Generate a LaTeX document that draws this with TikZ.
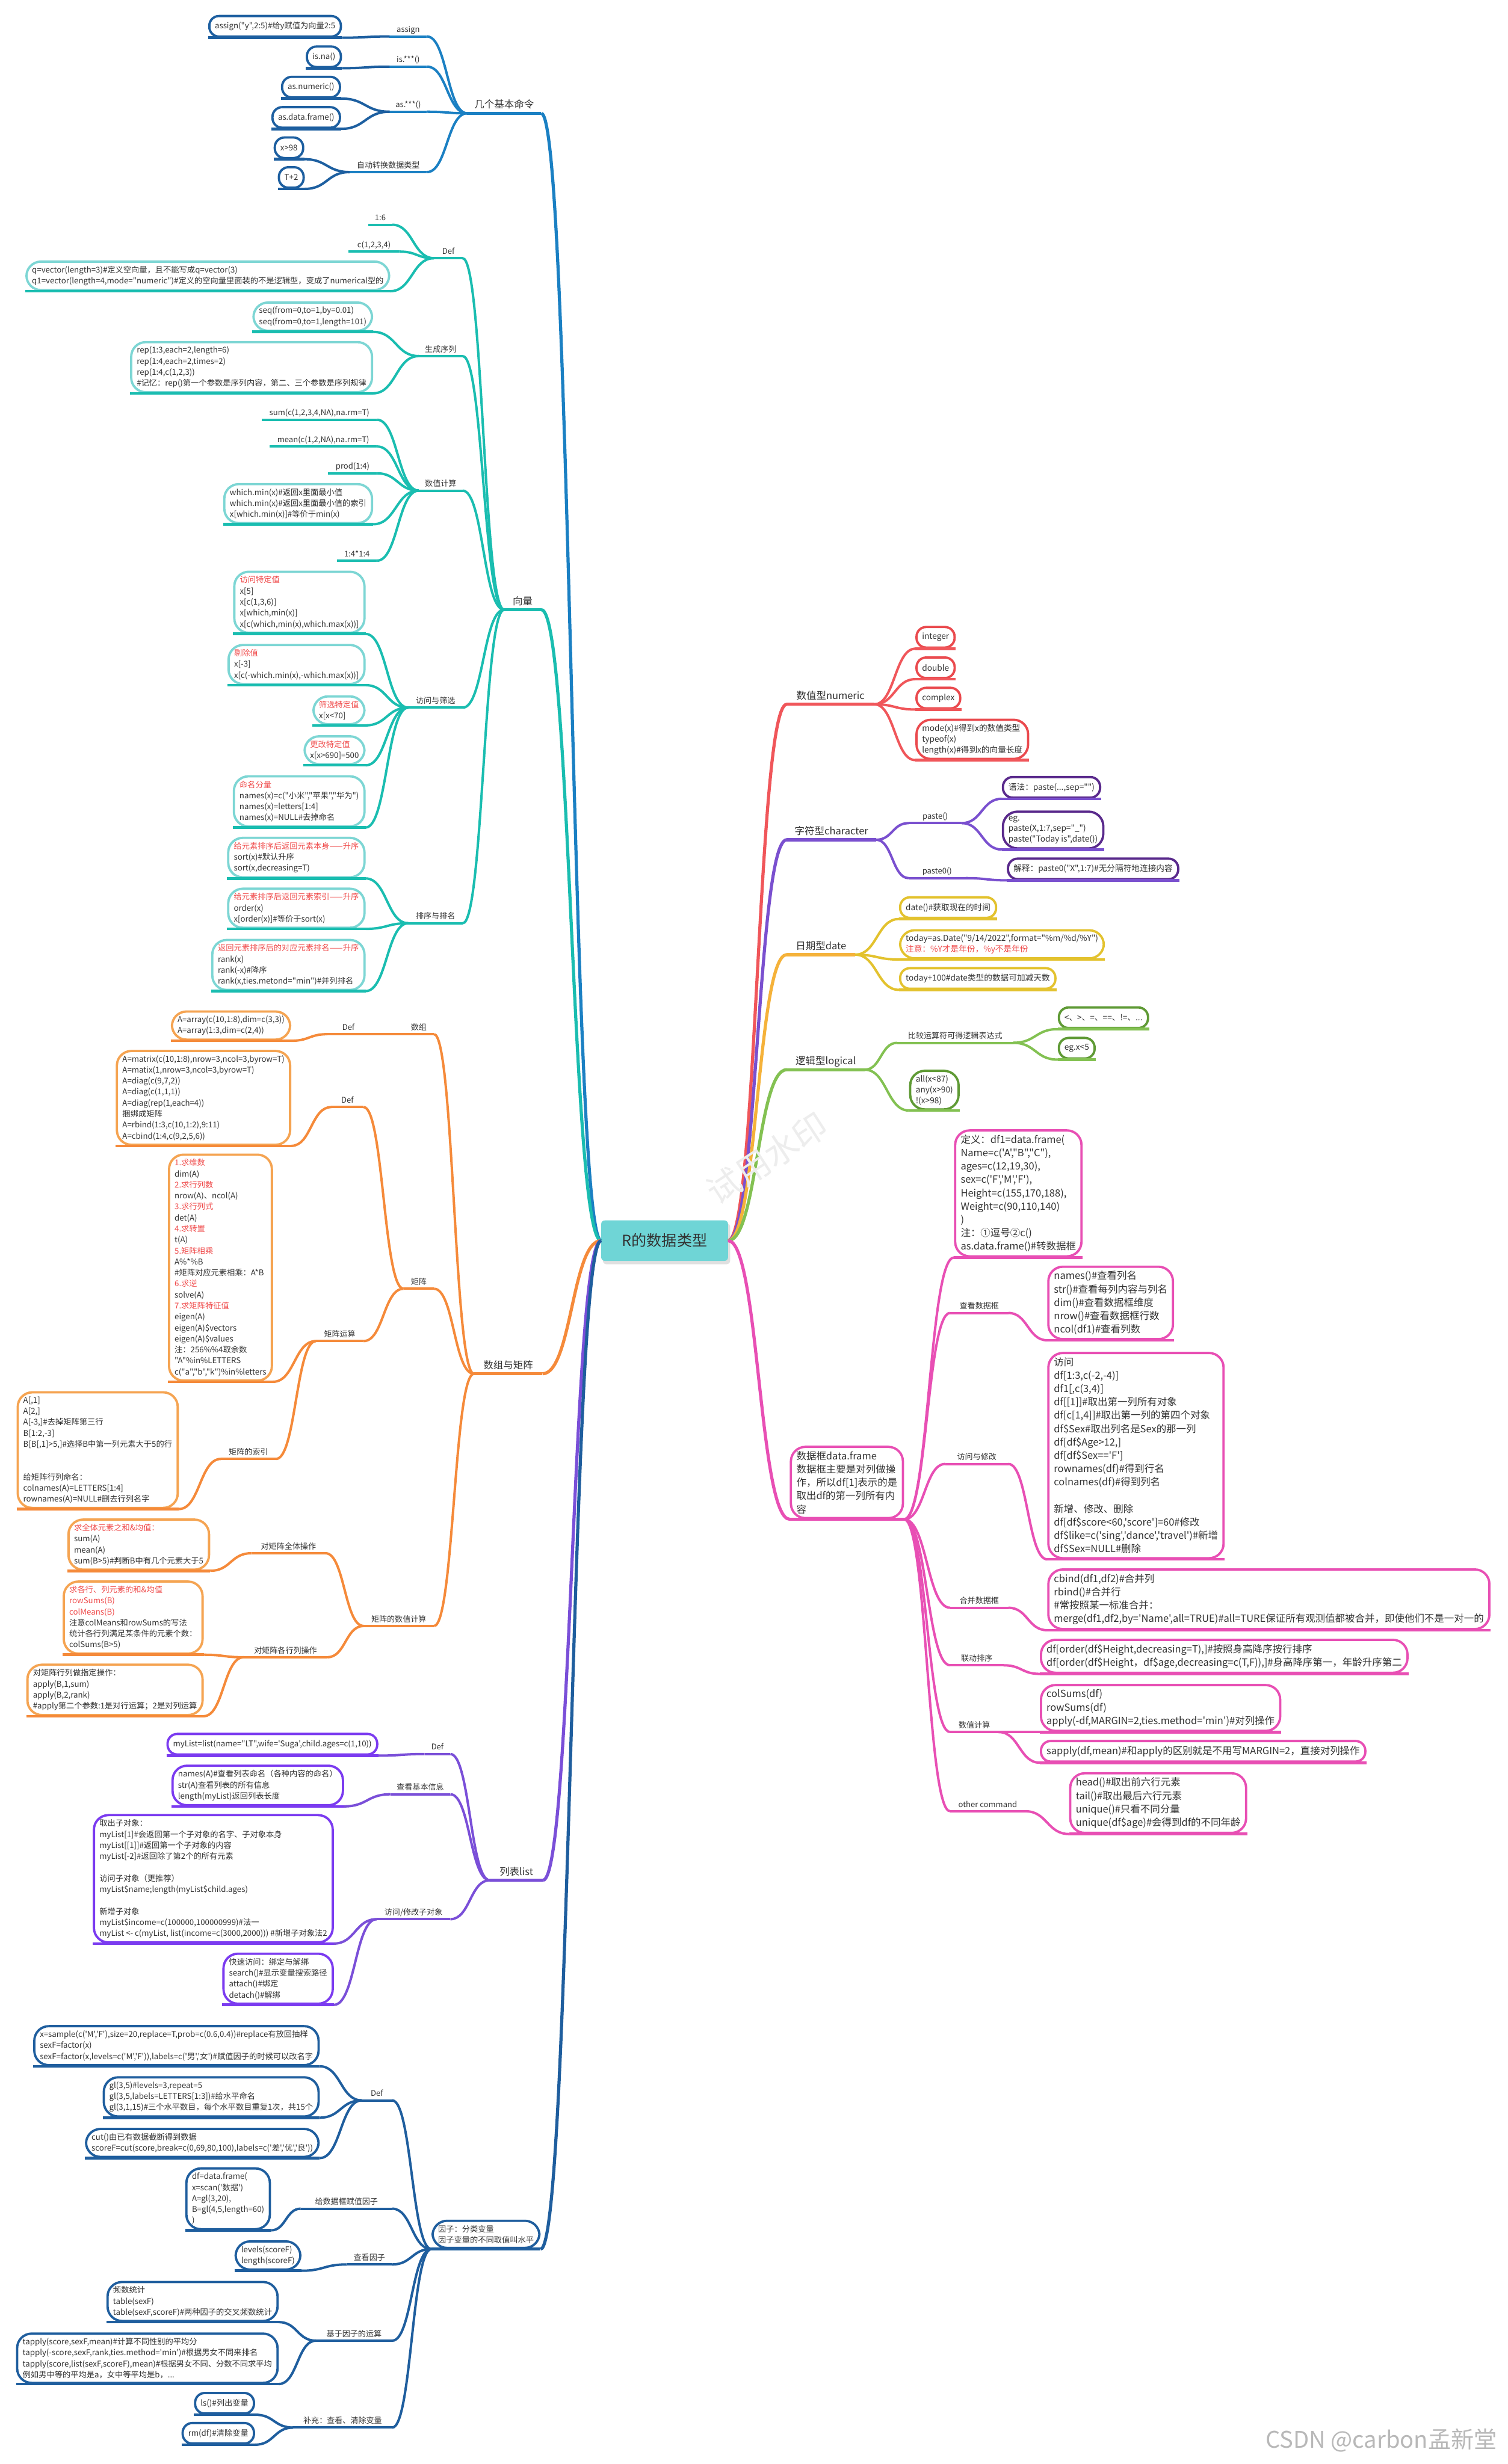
\documentclass[tikz,border=0pt]{standalone}
\usepackage{fontspec}
\newfontfamily\zhf{Noto Sans CJK SC}
\usetikzlibrary{calc}
\definecolor{txt}{HTML}{333333}
\definecolor{redT}{HTML}{F04B4B}
\definecolor{blL}{HTML}{1B80C3}
\definecolor{blB}{HTML}{1D5FA0}
\definecolor{tlL}{HTML}{1ABDB0}
\definecolor{tlB}{HTML}{7DD6D4}
\definecolor{orL}{HTML}{F58A3A}
\definecolor{orB}{HTML}{F5A452}
\definecolor{puL}{HTML}{7A4FD8}
\definecolor{puB}{HTML}{7B3BF0}
\definecolor{fbL}{HTML}{1F5E9E}
\definecolor{rdL}{HTML}{F0565A}
\definecolor{rdB}{HTML}{EA4A4E}
\definecolor{chL}{HTML}{7A50CF}
\definecolor{chB}{HTML}{5A2A8C}
\definecolor{dtR}{HTML}{F5B23A}
\definecolor{dtL}{HTML}{E3C22E}
\definecolor{lgL}{HTML}{83C152}
\definecolor{lgB}{HTML}{5F9A35}
\definecolor{pkL}{HTML}{E84FB4}
\definecolor{rootF}{HTML}{6FD5D6}
\newcommand\ftA{\zhf\fontsize{6.6}{9.1}\selectfont}
\newcommand\ftS{\zhf\fontsize{6.5}{8}\selectfont}
\newcommand\ftR{\zhf\fontsize{6.8}{8.9}\selectfont}
\newcommand\ftP{\zhf\fontsize{8.2}{11.05}\selectfont}
\newcommand\ftM{\zhf\fontsize{8.2}{10}\selectfont}
\newcommand\ftRoot{\zhf\fontsize{12.5}{14}\selectfont}
\newcommand\redtxt[1]{\textcolor{redT}{#1}}
\newcommand\LAB[6]{\node[#2, minimum width={(#4-#3)*1.3pt}, anchor=south west] (#1) at (#3,#5) {#6};}
\newcommand\CN[3]{\draw[cnx=#1] (#2) to (#3);}
\newcommand\MC[3]{\draw[mcx=#1] (#2) to (#3);}
\tikzset{
 ulx/.style 2 args={append after command={(\tikzlastnode.south west) edge[draw=#1,line width=#2] (\tikzlastnode.south east)}},
 labx/.style={font=\ftS, text=txt, inner xsep=0pt, inner ysep=2pt, text depth=1.4pt, outer sep=0pt, ulx={#1}{2pt}},
 mlabx/.style={font=\ftM, text=txt, inner xsep=0pt, inner ysep=2.4pt, text depth=1.8pt, outer sep=0pt, ulx={#1}{2.6pt}},
 boxx/.style 2 args={draw=#1, fill=white, rounded corners=8pt, line width=1.9pt, align=left, text=txt, font=\ftA, inner xsep=4.6pt, inner ysep=3.6pt, minimum height=17pt, ulx={#2}{2.3pt}},
 big/.style={rounded corners=12pt},
 cnx/.style={line width=2pt, draw=#1, to path={.. controls ($(\tikztostart)!0.5!(\tikztostart -| \tikztotarget)$) and ($(\tikztotarget)!0.5!(\tikztotarget -| \tikztostart)$) .. (\tikztotarget)}},
 mcx/.style={cnx=#1, line width=2.6pt},
 rootx/.style={fill=rootF, rounded corners=3pt, minimum width=104.9pt, minimum height=33.5pt, font=\ftRoot, text=txt, inner sep=0pt, outer sep=0pt},
}
\begin{document}
\begin{tikzpicture}[x=1.3pt,y=-1.3pt]
\fill[white] (0,0) rectangle (959,1568);
\useasboundingbox (0,0) rectangle (959,1568);

% ===== root
\fill[black!12, rounded corners=3pt] (383.5,778.5) rectangle (464.5,804.5);
\node[rootx] (root) at (422.8,789.5) {R的数据类型};

% ===== blue: 几个基本命令
\LAB{m1}{mlabx=blL}{297.2}{344.3}{72.1}{几个基本命令}
\LAB{b1}{labx=blL}{247.8}{271.6}{23.2}{assign}
\LAB{b2}{labx=blL}{247.8}{271.6}{42.4}{is.***()}
\LAB{b3}{labx=blL}{247.8}{271.6}{71.1}{as.***()}
\LAB{b4}{labx=blL}{222.4}{271.6}{109.5}{自动转换数据类型}
\node[boxx={blB}{blB}, anchor=south east] (bx1) at (217.6,24.0) {assign("y",2:5)\#给y赋值为向量2:5};
\node[boxx={blB}{blB}, anchor=south east] (bx2) at (217.6,43.4) {is.na()};
\node[boxx={blB}{blB}, anchor=south east] (bx3) at (217,62.7) {as.numeric()};
\node[boxx={blB}{blB}, anchor=south east] (bx4) at (217,82.0) {as.data.frame()};
\node[boxx={blB}{blB}, anchor=south east] (bx5) at (193.6,101.3) {x>98};
\node[boxx={blB}{blB}, anchor=south east] (bx6) at (193.9,120.2) {T+2};

% ===== teal: 向量
\LAB{m2}{mlabx=tlL}{320.7}{344.4}{388.0}{向量}
\LAB{t1}{labx=tlL}{276.1}{294.3}{164.3}{Def}
\LAB{t2}{labx=tlL}{266.4}{294.3}{226.6}{生成序列}
\LAB{t3}{labx=tlL}{266.4}{294.3}{312.2}{数值计算}
\LAB{t4}{labx=tlL}{259.7}{294.4}{450.3}{访问与筛选}
\LAB{t5}{labx=tlL}{259.7}{294.4}{587.5}{排序与排名}
\LAB{t11}{labx=tlL}{234.4}{249.5}{143.0}{1:6}
\LAB{t12}{labx=tlL}{221.6}{254.3}{160.1}{c(1,2,3,4)}
\node[boxx={tlB}{tlL}, big, anchor=south east] (tb1) at (248.3,185.3) {q=vector(length=3)\#定义空向量，且不能写成q=vector(3)\\q1=vector(length=4,mode="numeric")\#定义的空向量里面装的不是逻辑型，变成了numerical型的};
\node[boxx={tlB}{tlL}, big, anchor=south east] (tb2) at (237.4,211.2) {seq(from=0,to=1,by=0.01)\\seq(from=0,to=1,length=101)};
\node[boxx={tlB}{tlL}, big, anchor=south east] (tb3) at (237.4,250.3) {rep(1:3,each=2,length=6)\\rep(1:4,each=2,times=2)\\rep(1:4,c(1,2,3))\\\#记忆：rep()第一个参数是序列内容，第二、三个参数是序列规律};
\LAB{t31}{labx=tlL}{166.6}{239.8}{267.1}{sum(c(1,2,3,4,NA),na.rm=T)}
\LAB{t32}{labx=tlL}{171.5}{239.8}{284.1}{mean(c(1,2,NA),na.rm=T)}
\LAB{t33}{labx=tlL}{208.8}{239.8}{301.2}{prod(1:4)}
\node[boxx={tlB}{tlL}, big, anchor=south east] (tb4) at (237.4,333.6) {which.min(x)\#返回x里面最小值\\which.min(x)\#返回x里面最小值的索引\\x[which.min(x)]\#等价于min(x)};
\LAB{t34}{labx=tlL}{214.4}{239.8}{356.8}{1:4*1:4}
\node[boxx={tlB}{tlL}, big, anchor=south east] (ta1) at (232.6,403.4) {\redtxt{访问特定值}\\x[5]\\x[c(1,3,6)]\\x[which,min(x)]\\x[c(which,min(x),which.max(x))]};
\node[boxx={tlB}{tlL}, big, anchor=south east] (ta2) at (232.6,436.0) {\redtxt{剔除值}\\x[-3]\\x[c(-which.min(x),-which.max(x))]};
\node[boxx={tlB}{tlL}, big, anchor=south east] (ta3) at (232.6,461.6) {\redtxt{筛选特定值}\\x[x<70]};
\node[boxx={tlB}{tlL}, big, anchor=south east] (ta4) at (232.6,487.0) {\redtxt{更改特定值}\\x[x>690]=500};
\node[boxx={tlB}{tlL}, big, anchor=south east] (ta5) at (232.6,526.6) {\redtxt{命名分量}\\names(x)=c("小米","苹果","华为")\\names(x)=letters[1:4]\\names(x)=NULL\#去掉命名};
\node[boxx={tlB}{tlL}, big, anchor=south east] (ts1) at (232.6,559.0) {\redtxt{给元素排序后返回元素本身——升序}\\sort(x)\#默认升序\\sort(x,decreasing=T)};
\node[boxx={tlB}{tlL}, big, anchor=south east] (ts2) at (232.6,591.1) {\redtxt{给元素排序后返回元素索引——升序}\\order(x)\\x[order(x)]\#等价于sort(x)};
\node[boxx={tlB}{tlL}, big, anchor=south east] (ts3) at (232.6,630.7) {\redtxt{返回元素排序后的对应元素排名——升序}\\rank(x)\\rank(-x)\#降序\\rank(x,ties.metond="min")\#并列排名};

% ===== orange: 数组与矩阵
\LAB{m3}{mlabx=orL}{301.5}{345.1}{874.2}{数组与矩阵}
\LAB{o1}{labx=orL}{256.7}{276.1}{658.1}{数组}
\LAB{o11}{labx=orL}{208.3}{235}{658.1}{Def}
\node[boxx={orB}{orL}, big, anchor=south east] (ob1) at (185.3,662.3) {A=array(c(10,1:8),dim=c(3,3))\\A=array(1:3,dim=c(2,4))};
\LAB{o2}{labx=orL}{256.7}{276.1}{820.1}{矩阵}
\LAB{o21}{labx=orL}{210.7}{231.3}{704.5}{Def}
\node[boxx={orB}{orL}, big, anchor=south east] (ob2) at (185.3,729.2) {A=matrix(c(10,1:8),nrow=3,ncol=3,byrow=T)\\A=matix(1,nrow=3,ncol=3,byrow=T)\\A=diag(c(9,7,2))\\A=diag(c(1,1,1))\\A=diag(rep(1,each=4))\\捆绑成矩阵\\A=rbind(1:3,c(10,1:2),9:11)\\A=cbind(1:4,c(9,2,5,6))};
\LAB{o22}{labx=orL}{201}{231.3}{853.4}{矩阵运算}
\node[boxx={orB}{orL}, big, anchor=south east] (ob3) at (173.7,879.3) {\redtxt{1.求维数}\\dim(A)\\\redtxt{2.求行列数}\\nrow(A)、ncol(A)\\\redtxt{3.求行列式}\\det(A)\\\redtxt{4.求转置}\\t(A)\\\redtxt{5.矩阵相乘}\\A\%*\%B\\\#矩阵对应元素相乘：A*B\\\redtxt{6.求逆}\\solve(A)\\\redtxt{7.求矩阵特征值}\\eigen(A)\\eigen(A)\$vectors\\eigen(A)\$values\\注：256\%\%4取余数\\"A"\%in\%LETTERS\\c("a","b","k")\%in\%letters};
\LAB{o23}{labx=orL}{140.5}{175.6}{928.4}{矩阵的索引}
\node[boxx={orB}{orL}, big, anchor=south east] (ob4) at (113.8,960.3) {A[,1]\\A[2,]\\A[-3,]\#去掉矩阵第三行\\B[1:2,-3]\\B[B[,1]>5,]\#选择B中第一列元素大于5的行\\\mbox{}\\\mbox{}\\给矩阵行列命名：\\colnames(A)=LETTERS[1:4]\\rownames(A)=NULL\#删去行列名字};
\LAB{o3}{labx=orL}{231.3}{276.1}{1034.7}{矩阵的数值计算}
\LAB{o31}{labx=orL}{159.9}{207.1}{988.4}{对矩阵全体操作}
\node[boxx={orB}{orL}, big, anchor=south east] (ob5) at (133.7,999.6) {\redtxt{求全体元素之和\&均值：}\\sum(A)\\mean(A)\\sum(B>5)\#判断B中有几个元素大于5};
\LAB{o32}{labx=orL}{155}{208.3}{1054.6}{对矩阵各行列操作}
\node[boxx={orB}{orL}, big, anchor=south east] (ob6) at (129.6,1053.0) {\redtxt{求各行、列元素的和\&均值}\\\redtxt{rowSums(B)}\\\redtxt{colMeans(B)}\\注意colMeans和rowSums的写法\\统计各行列满足某条件的元素个数：\\colSums(B>5)};
\node[boxx={orB}{orL}, big, anchor=south east] (ob7) at (129.6,1092.1) {对矩阵行列做指定操作：\\apply(B,1,sum)\\apply(B,2,rank)\\\#apply第二个参数:1是对行运算；2是对列运算};

% ===== purple: 列表list
\LAB{m4}{mlabx=puL}{311.6}{345.4}{1196.5}{列表list}
\LAB{p1}{labx=puL}{270.1}{286.5}{1116.2}{Def}
\node[boxx={puB}{puB}, anchor=south east] (pb1) at (240.7,1117.2) {myList=list(name="LT",wife='Suga',child.ages=c(1,10))};
\LAB{p2}{labx=puL}{248.3}{286.5}{1141.8}{查看基本信息}
\node[boxx={puB}{puB}, big, anchor=south east] (pb2) at (218.9,1149.5) {names(A)\#查看列表命名（各种内容的命名）\\str(A)查看列表的所有信息\\length(myList)返回列表长度};
\LAB{p3}{labx=puL}{239.6}{286.5}{1221.3}{访问/修改子对象}
\node[boxx={puB}{puB}, big, anchor=south east] (pb3) at (212.4,1236.8) {取出子对象：\\myList[1]\#会返回第一个子对象的名字、子对象本身\\myList[[1]]\#返回第一个子对象的内容\\myList[-2]\#返回除了第2个的所有元素\\\mbox{}\\访问子对象（更推荐）\\myList\$name;length(myList\$child.ages)\\\mbox{}\\新增子对象\\myList\$income=c(100000,100000999)\#法一\\myList <- c(myList, list(income=c(3000,2000))) \#新增子对象法2};
\node[boxx={puB}{puB}, big, anchor=south east] (pb4) at (212.4,1275.8) {快速访问：绑定与解绑\\search()\#显示变量搜索路径\\attach()\#绑定\\detach()\#解绑};

% ===== factor
\node[boxx={fbL}{fbL}, big, anchor=south east] (m5) at (343.9,1431.2) {因子：分类变量\\因子变量的不同取值叫水平};
\LAB{f1}{labx=fbL}{230.1}{249.5}{1336.6}{Def}
\node[boxx={fbL}{fbL}, big, anchor=south east] (fb1) at (203.4,1314.9) {x=sample(c('M','F'),size=20,replace=T,prob=c(0.6,0.4))\#replace有放回抽样\\sexF=factor(x)\\sexF=factor(x,levels=c('M','F')),labels=c('男','女')\#赋值因子的时候可以改名字};
\node[boxx={fbL}{fbL}, big, anchor=south east] (fb2) at (203.4,1347.6) {gl(3,5)\#levels=3,repeat=5\\gl(3,5,labels=LETTERS[1:3])\#给水平命名\\gl(3,1,15)\#三个水平数目，每个水平数目重复1次，共15个};
\node[boxx={fbL}{fbL}, big, anchor=south east] (fb3) at (203.4,1373.3) {cut()由已有数据截断得到数据\\scoreF=cut(score,break=c(0,69,80,100),labels=c('差','优','良'))};
\LAB{f2}{labx=fbL}{191.3}{249.5}{1405.5}{给数据框赋值因子}
\node[boxx={fbL}{fbL}, big, anchor=south east] (fb4) at (172.4,1419.3) {df=data.frame(\\x=scan('数据')\\A=gl(3,20),\\B=gl(4,5,length=60)\\)};
\LAB{f3}{labx=fbL}{220.4}{249.5}{1441.0}{查看因子}
\node[boxx={fbL}{fbL}, big, anchor=south east] (fb5) at (191.8,1445.0) {levels(scoreF)\\length(scoreF)};
\LAB{f4}{labx=fbL}{201}{249.5}{1489.5}{基于因子的运算}
\node[boxx={fbL}{fbL}, big, anchor=south east] (fb6) at (177.3,1477.7) {频数统计\\table(sexF)\\table(sexF,scoreF)\#两种因子的交叉频数统计};
\node[boxx={fbL}{fbL}, big, anchor=south east] (fb7) at (177.3,1517.1) {tapply(score,sexF,mean)\#计算不同性别的平均分\\tapply(-score,sexF,rank,ties.method='min')\#根据男女不同来排名\\tapply(score,list(sexF,scoreF),mean)\#根据男女不同、分数不同求平均\\例如男中等的平均是a，女中等平均是b，...};
\LAB{f5}{labx=fbL}{186.5}{249.5}{1544.8}{补充：查看、清除变量}
\node[boxx={fbL}{fbL}, anchor=south east] (fb8) at (162.3,1536.6) {ls()\#列出变量};
\node[boxx={fbL}{fbL}, anchor=south east] (fb9) at (162.3,1555.7) {rm(df)\#清除变量};

% ===== right: numeric
\LAB{m6}{mlabx=rdL}{500.5}{556.2}{448.2}{数值型numeric}
\node[boxx={rdB}{rdL}, font=\ftR, anchor=south west] (n1) at (582.3,412.8) {integer};
\node[boxx={rdB}{rdL}, font=\ftR, anchor=south west] (n2) at (582.3,432.2) {double};
\node[boxx={rdB}{rdL}, font=\ftR, anchor=south west] (n3) at (582.3,451.5) {complex};
\node[boxx={rdB}{rdL}, font=\ftR, big, anchor=south west] (n4) at (582.3,483.7) {mode(x)\#得到x的数值类型\\typeof(x)\\length(x)\#得到x的向量长度};

% ===== character
\LAB{m7}{mlabx=chL}{500.5}{557.4}{534.4}{字符型character}
\LAB{c1}{labx=chL}{578}{611.9}{523.8}{paste()}
\LAB{c2}{labx=chL}{578}{614.3}{558.8}{paste0()}
\node[boxx={chB}{chL}, font=\ftR, anchor=south west] (cb1) at (637.3,508.3) {语法：paste(...,sep="")};
\node[boxx={chB}{chL}, font=\ftR, big, anchor=south west] (cb2) at (637.3,540.6) {eg.\\paste(X,1:7,sep="\_")\\paste("Today is",date())};
\node[boxx={chB}{chL}, font=\ftR, anchor=south west] (cb3) at (640.5,560.2) {解释：paste0("X",1:7)\#无分隔符地连接内容};

% ===== date
\LAB{m8}{mlabx=dtR}{500.5}{544}{607.5}{日期型date}
\node[boxx={dtL}{dtL}, font=\ftR, anchor=south west] (d1) at (571.9,584.8) {date()\#获取现在的时间};
\node[boxx={dtL}{dtL}, font=\ftR, big, anchor=south west] (d2) at (571.9,610.6) {today=as.Date("9/14/2022",format="\%m/\%d/\%Y")\\\redtxt{注意：\%Y才是年份，\%y不是年份}};
\node[boxx={dtL}{dtL}, font=\ftR, anchor=south west] (d3) at (571.9,629.9) {today+100\#date类型的数据可加减天数};

% ===== logical
\LAB{m9}{mlabx=lgL}{500.5}{550.1}{680.7}{逻辑型logical}
\LAB{g1}{labx=lgL}{570.7}{644.6}{663.6}{比较运算符可得逻辑表达式}
\node[boxx={lgB}{lgL}, font=\ftR, anchor=south west] (gb1) at (672.9,654.9) {<、>、=、==、!=、...};
\node[boxx={lgB}{lgL}, font=\ftR, anchor=south west] (gb2) at (672.9,674.3) {eg.x<5};
\node[boxx={lgB}{lgL}, font=\ftR, big, anchor=south west] (gb3) at (578.3,706.7) {all(x<87)\\any(x>90)\\!(x>98)};

% ===== pink: data.frame
\node[boxx={pkL}{pkL}, font=\ftP, big, anchor=south west] (m10) at (502.4,966.8) {数据框data.frame\\数据框主要是对列做操\\作，所以df[1]表示的是\\取出df的第一列所有内\\容};
\node[boxx={pkL}{pkL}, font=\ftP, big, anchor=south west] (k0) at (606.9,800.2) {定义：df1=data.frame(\\Name=c('A',"B","C"),\\ages=c(12,19,30),\\sex=c('F','M','F'),\\Height=c(155,170,188),\\Weight=c(90,110,140)\\)\\注：①逗号②c()\\as.data.frame()\#转数据框};
\LAB{k1}{labx=pkL}{604.4}{641.5}{835.5}{查看数据框}
\node[boxx={pkL}{pkL}, font=\ftP, big, anchor=south west] (kb1) at (666.2,852.9) {names()\#查看列名\\str()\#查看每列内容与列名\\dim()\#查看数据框维度\\nrow()\#查看数据框行数\\ncol(df1)\#查看列数};
\LAB{k2}{labx=pkL}{601.3}{641.5}{931.6}{访问与修改}
\node[boxx={pkL}{pkL}, font=\ftP, big, anchor=south west] (kb2) at (666.2,992.3) {访问\\df[1:3,c(-2,-4)]\\df1[,c(3,4)]\\df[[1]]\#取出第一列所有对象\\df[c[1,4]]\#取出第一列的第四个对象\\df\$Sex\#取出列名是Sex的那一列\\df[df\$Age>12,]\\df[df\$Sex=='F']\\rownames(df)\#得到行名\\colnames(df)\#得到列名\\\mbox{}\\新增、修改、删除\\df[df\$score<60,'score']=60\#修改\\df\$like=c('sing','dance','travel')\#新增\\df\$Sex=NULL\#删除};
\LAB{k3}{labx=pkL}{604.4}{641.5}{1023.1}{合并数据框}
\node[boxx={pkL}{pkL}, font=\ftP, big, anchor=south west] (kb3) at (666.2,1037.4) {cbind(df1,df2)\#合并列\\rbind()\#合并行\\\#常按照某一标准合并：\\merge(df1,df2,by='Name',all=TRUE)\#all=TURE保证所有观测值都被合并，即使他们不是一对一的};
\LAB{k4}{labx=pkL}{604.4}{638.4}{1059.7}{联动排序}
\node[boxx={pkL}{pkL}, font=\ftP, big, anchor=south west] (kb4) at (661.5,1065.2) {df[order(df\$Height,decreasing=T),]\#按照身高降序按行排序\\df[order(df\$Height，df\$age,decreasing=c(T,F)),]\#身高降序第一，年龄升序第二};
\LAB{k5}{labx=pkL}{604.4}{635.3}{1102.2}{数值计算}
\node[boxx={pkL}{pkL}, font=\ftP, big, anchor=south west] (kb5) at (661.5,1102.2) {colSums(df)\\rowSums(df)\\apply(-df,MARGIN=2,ties.method='min')\#对列操作};
\node[boxx={pkL}{pkL}, font=\ftP, anchor=south west] (kb6) at (661.5,1121.7) {sapply(df,mean)\#和apply的区别就是不用写MARGIN=2，直接对列操作};
\LAB{k6}{labx=pkL}{604.4}{652.3}{1152.6}{other command}
\node[boxx={pkL}{pkL}, font=\ftP, big, anchor=south west] (kb7) at (680.1,1167.1) {head()\#取出前六行元素\\tail()\#取出最后六行元素\\unique()\#只看不同分量\\unique(df\$age)\#会得到df的不同年龄};

% ===== connectors: blue
\CN{blB}{bx1.south east}{b1.south west}
\CN{blB}{bx2.south east}{b2.south west}
\CN{blB}{bx3.south east}{b3.south west}
\CN{blB}{bx4.south east}{b3.south west}
\CN{blB}{bx5.south east}{b4.south west}
\CN{blB}{bx6.south east}{b4.south west}
\CN{blL}{b1.south east}{m1.south west}
\CN{blL}{b2.south east}{m1.south west}
\CN{blL}{b3.south east}{m1.south west}
\CN{blL}{b4.south east}{m1.south west}
\MC{blL}{m1.south east}{root.west}
% teal
\CN{tlL}{t11.south east}{t1.south west}
\CN{tlL}{t12.south east}{t1.south west}
\CN{tlL}{tb1.south east}{t1.south west}
\CN{tlL}{tb2.south east}{t2.south west}
\CN{tlL}{tb3.south east}{t2.south west}
\CN{tlL}{t31.south east}{t3.south west}
\CN{tlL}{t32.south east}{t3.south west}
\CN{tlL}{t33.south east}{t3.south west}
\CN{tlL}{tb4.south east}{t3.south west}
\CN{tlL}{t34.south east}{t3.south west}
\CN{tlL}{ta1.south east}{t4.south west}
\CN{tlL}{ta2.south east}{t4.south west}
\CN{tlL}{ta3.south east}{t4.south west}
\CN{tlL}{ta4.south east}{t4.south west}
\CN{tlL}{ta5.south east}{t4.south west}
\CN{tlL}{ts1.south east}{t5.south west}
\CN{tlL}{ts2.south east}{t5.south west}
\CN{tlL}{ts3.south east}{t5.south west}
\CN{tlL}{t1.south east}{m2.south west}
\CN{tlL}{t2.south east}{m2.south west}
\CN{tlL}{t3.south east}{m2.south west}
\CN{tlL}{t4.south east}{m2.south west}
\CN{tlL}{t5.south east}{m2.south west}
\MC{tlL}{m2.south east}{root.west}
% orange
\CN{orL}{ob1.south east}{o11.south west}
\CN{orL}{o11.south east}{o1.south west}
\CN{orL}{ob2.south east}{o21.south west}
\CN{orL}{o21.south east}{o2.south west}
\CN{orL}{ob3.south east}{o22.south west}
\CN{orL}{ob4.south east}{o23.south west}
\CN{orL}{o23.south east}{o22.south west}
\CN{orL}{o22.south east}{o2.south west}
\CN{orL}{ob5.south east}{o31.south west}
\CN{orL}{ob6.south east}{o32.south west}
\CN{orL}{ob7.south east}{o32.south west}
\CN{orL}{o31.south east}{o3.south west}
\CN{orL}{o32.south east}{o3.south west}
\CN{orL}{o1.south east}{m3.south west}
\CN{orL}{o2.south east}{m3.south west}
\CN{orL}{o3.south east}{m3.south west}
\MC{orL}{m3.south east}{root.west}
% purple
\CN{puL}{pb1.south east}{p1.south west}
\CN{puL}{pb2.south east}{p2.south west}
\CN{puL}{pb3.south east}{p3.south west}
\CN{puL}{pb4.south east}{p3.south west}
\CN{puL}{p1.south east}{m4.south west}
\CN{puL}{p2.south east}{m4.south west}
\CN{puL}{p3.south east}{m4.south west}
\MC{puL}{m4.south east}{root.west}
% factor
\CN{fbL}{fb1.south east}{f1.south west}
\CN{fbL}{fb2.south east}{f1.south west}
\CN{fbL}{fb3.south east}{f1.south west}
\CN{fbL}{fb4.south east}{f2.south west}
\CN{fbL}{fb5.south east}{f3.south west}
\CN{fbL}{fb6.south east}{f4.south west}
\CN{fbL}{fb7.south east}{f4.south west}
\CN{fbL}{fb8.south east}{f5.south west}
\CN{fbL}{fb9.south east}{f5.south west}
\CN{fbL}{f1.south east}{m5.south west}
\CN{fbL}{f2.south east}{m5.south west}
\CN{fbL}{f3.south east}{m5.south west}
\CN{fbL}{f4.south east}{m5.south west}
\CN{fbL}{f5.south east}{m5.south west}
\MC{fbL}{m5.south east}{root.west}
% right side
\MC{rdL}{root.east}{m6.south west}
\CN{rdL}{m6.south east}{n1.south west}
\CN{rdL}{m6.south east}{n2.south west}
\CN{rdL}{m6.south east}{n3.south west}
\CN{rdL}{m6.south east}{n4.south west}
\MC{chL}{root.east}{m7.south west}
\CN{chL}{m7.south east}{c1.south west}
\CN{chL}{m7.south east}{c2.south west}
\CN{chL}{c1.south east}{cb1.south west}
\CN{chL}{c1.south east}{cb2.south west}
\CN{chL}{c2.south east}{cb3.south west}
\MC{dtR}{root.east}{m8.south west}
\CN{dtL}{m8.south east}{d1.south west}
\CN{dtL}{m8.south east}{d2.south west}
\CN{dtL}{m8.south east}{d3.south west}
\MC{lgL}{root.east}{m9.south west}
\CN{lgL}{m9.south east}{g1.south west}
\CN{lgL}{m9.south east}{gb3.south west}
\CN{lgL}{g1.south east}{gb1.south west}
\CN{lgL}{g1.south east}{gb2.south west}
\MC{pkL}{root.east}{m10.south west}
\CN{pkL}{m10.south east}{k0.south west}
\CN{pkL}{m10.south east}{k1.south west}
\CN{pkL}{m10.south east}{k2.south west}
\CN{pkL}{m10.south east}{k3.south west}
\CN{pkL}{m10.south east}{k4.south west}
\CN{pkL}{m10.south east}{k5.south west}
\CN{pkL}{m10.south east}{k6.south west}
\CN{pkL}{k1.south east}{kb1.south west}
\CN{pkL}{k2.south east}{kb2.south west}
\CN{pkL}{k3.south east}{kb3.south west}
\CN{pkL}{k4.south east}{kb4.south west}
\CN{pkL}{k5.south east}{kb5.south west}
\CN{pkL}{k5.south east}{kb6.south west}
\CN{pkL}{k6.south east}{kb7.south west}

% ===== watermarks
\node[font=\zhf\fontsize{28}{28}\selectfont, text=black!7, rotate=33] (wm) at (488,737) {试用水印};
\node[font=\zhf\fontsize{19}{19}\selectfont, text=black!28, anchor=east] (csdn) at (955,1553) {CSDN @carbon孟新堂};
\end{tikzpicture}
\end{document}
